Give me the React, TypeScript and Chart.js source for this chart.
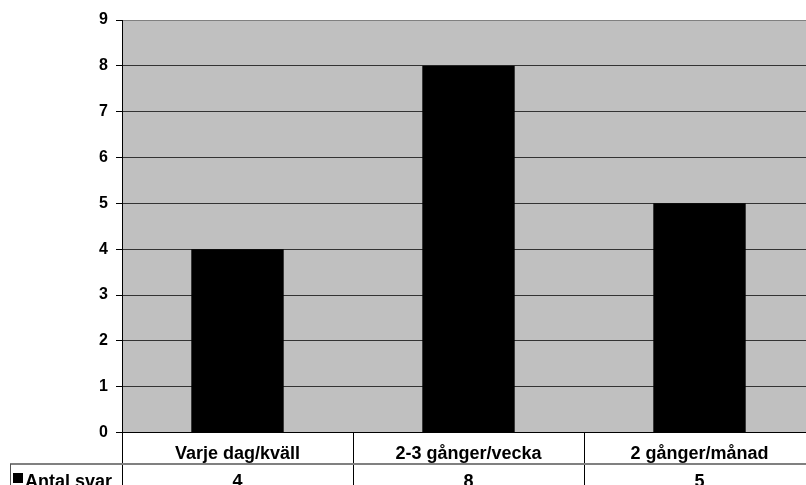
import React, { useEffect, useRef } from "react";
import { Chart, registerables } from "chart.js";

Chart.register(...registerables);

const categories = ["Varje dag/kväll", "2-3 gånger/vecka", "2 gånger/månad"];
const antalSvar = [4, 8, 5];
const seriesName = "Antal svar";
const yMin = 0;
const yMax = 9;

const FONT = "'Liberation Sans', Arial, sans-serif";

export default function App() {
  const ref = useRef<HTMLCanvasElement>(null);

  useEffect(() => {
    const canvas = ref.current!;

    const plotBg = {
      id: "plotBg",
      beforeDraw(chart: any) {
        const { ctx, chartArea: a } = chart;
        ctx.save();
        ctx.fillStyle = "#C0C0C0";
        ctx.fillRect(a.left, a.top, a.right - a.left, a.bottom - a.top);
        ctx.restore();
      },
    };

    const dataTable = {
      id: "dataTable",
      afterDraw(chart: any) {
        const { ctx, chartArea: a } = chart;
        const xs = chart.scales.x;
        const n = categories.length;
        const catW = (a.right - a.left) / n;
        const H = chart.height;
        const rowSep = a.bottom + 31.5;
        ctx.save();
        // vertical dividers
        ctx.strokeStyle = "#000";
        ctx.lineWidth = 1;
        for (let i = 0; i <= n; i++) {
          const x = Math.round(a.left + i * catW) + 0.5;
          ctx.beginPath();
          ctx.moveTo(x, a.bottom);
          ctx.lineTo(x, H);
          ctx.stroke();
        }
        // row separator
        ctx.strokeStyle = "#808080";
        ctx.lineWidth = 2;
        ctx.beginPath();
        ctx.moveTo(10, rowSep);
        ctx.lineTo(a.right, rowSep);
        ctx.stroke();
        // left border of series row
        ctx.strokeStyle = "#555";
        ctx.lineWidth = 1;
        ctx.beginPath();
        ctx.moveTo(10.5, rowSep);
        ctx.lineTo(10.5, H);
        ctx.stroke();
        // category labels
        ctx.fillStyle = "#000";
        ctx.font = `bold 18px ${FONT}`;
        ctx.textAlign = "center";
        ctx.textBaseline = "alphabetic";
        categories.forEach((c, i) => {
          ctx.fillText(c, xs.getPixelForValue(i), a.bottom + 26.5);
        });
        // series row
        antalSvar.forEach((v, i) => {
          ctx.fillText(String(v), xs.getPixelForValue(i), rowSep + 23);
        });
        ctx.fillRect(13, rowSep + 9, 10, 10);
        ctx.textAlign = "left";
        ctx.fillText(seriesName, 25, rowSep + 23);
        ctx.restore();
      },
    };

    const chart = new Chart(canvas, {
      type: "bar",
      data: {
        labels: categories,
        datasets: [
          {
            label: seriesName,
            data: antalSvar,
            backgroundColor: "#000",
            borderColor: "#000",
            borderWidth: 0,
            barPercentage: 0.4,
            categoryPercentage: 1,
          },
        ],
      },
      options: {
        responsive: false,
        animation: false,
        layout: { padding: { top: 20, right: 15, bottom: 67.5, left: 0 } },
        plugins: {
          legend: { display: false },
          tooltip: { enabled: false },
        },
        scales: {
          x: { display: false },
          y: {
            min: yMin,
            max: yMax,
            afterFit(scale: any) {
              scale.width = 122;
            },
            ticks: {
              stepSize: 1,
              color: "#000",
              font: { family: FONT, size: 16, weight: "bold" },
              padding: 8,
            },
            grid: {
              color: (c: any) => (c.tick && c.tick.value === yMax ? "#808080" : c.tick && c.tick.value === yMin ? "#000" : "#333"),
              tickColor: "#000",
              tickLength: 6,
              lineWidth: 1,
            },
            border: { display: true, color: "#000", width: 1 },
          },
        },
      },
      plugins: [plotBg, dataTable],
    } as any);

    return () => chart.destroy();
  }, []);

  return (
    <div
      style={{
        position: "fixed",
        left: 0,
        top: 0,
        width: 806,
        height: 485,
        overflow: "hidden",
        background: "#fff",
      }}
    >
      <canvas ref={ref} width={830} height={500} style={{ width: 830, height: 500, display: "block" }} />
    </div>
  );
}
